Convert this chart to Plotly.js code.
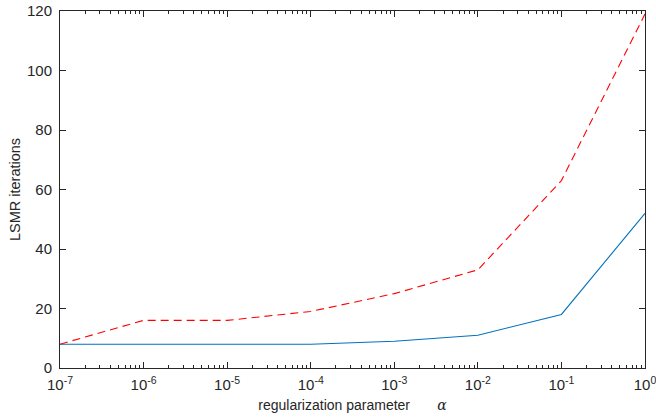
<!DOCTYPE html>
<html>
<head>
<meta charset="utf-8">
<script src="https://cdn.plot.ly/plotly-3.0.1.min.js"></script>
<style>html,body{margin:0;padding:0;background:#fff;}</style>
</head>
<body>
<div id="chart" style="width:656px;height:420px;"></div>
<script>
const alphas = [1e-7, 1e-6, 1e-5, 1e-4, 1e-3, 1e-2, 1e-1, 1];
const itersSolid = [8, 8, 8, 8, 9, 11, 18, 52];
const itersDashed = [8, 16, 16, 19, 25, 33, 63, 119];
const xTickVals = [1e-7, 1e-6, 1e-5, 1e-4, 1e-3, 1e-2, 1e-1, 1];
const xTickText = ['10<sup>-7</sup>','10<sup>-6</sup>','10<sup>-5</sup>','10<sup>-4</sup>','10<sup>-3</sup>','10<sup>-2</sup>','10<sup>-1</sup>','10<sup>0</sup>'];

const minorVals = [];
for (let e = -7; e < 0; e++) for (let d = 2; d <= 9; d++) minorVals.push(d * Math.pow(10, e));

const axisCol = '#262626';
const font = {family: 'Liberation Sans, Arial, sans-serif', size: 15, color: '#262626'};

const traces = [
  {x: alphas, y: itersSolid, mode: 'lines', line: {color: '#0072BD', width: 1.1}},
  {x: alphas, y: itersDashed, mode: 'lines', line: {color: '#FF0000', width: 1.1, dash: '8px,5px'}}
];

const layout = {
  width: 656, height: 420,
  margin: {l: 60, r: 11, t: 11, b: 52},
  showlegend: false,
  paper_bgcolor: '#fff', plot_bgcolor: '#fff',
  font: font,
  xaxis: {
    type: 'log', range: [-7, 0],
    tickmode: 'array', tickvals: xTickVals, ticktext: xTickText,
    ticks: 'inside', ticklen: 6, tickcolor: axisCol, tickwidth: 1,
    minor: {tickmode: 'array', tickvals: minorVals, ticks: 'inside', ticklen: 3, tickcolor: axisCol, showgrid: false},
    showline: true, linecolor: axisCol, linewidth: 1, mirror: 'ticks',
    showgrid: false, zeroline: false,
    tickfont: {size: 15}, ticklabelstandoff: 3, ticklabeloverflow: 'allow',
    title: {text: 'regularization parameter\u00a0\u00a0\u00a0\u00a0\u00a0\u00a0\u00a0<span style="font-family:DejaVu Serif"><i>α</i></span>', font: {size: 14}, standoff: 8}
  },
  yaxis: {
    range: [0, 120], dtick: 20,
    ticks: 'inside', ticklen: 6, tickcolor: axisCol, tickwidth: 1,
    showline: true, linecolor: axisCol, linewidth: 1, mirror: 'ticks',
    showgrid: false, zeroline: false,
    tickfont: {size: 15}, ticklabelstandoff: 4,
    title: {text: 'LSMR iterations', font: {size: 14.5}, standoff: 2}
  }
};

Plotly.newPlot('chart', traces, layout, {displayModeBar: false, staticPlot: true});
</script>
</body>
</html>
